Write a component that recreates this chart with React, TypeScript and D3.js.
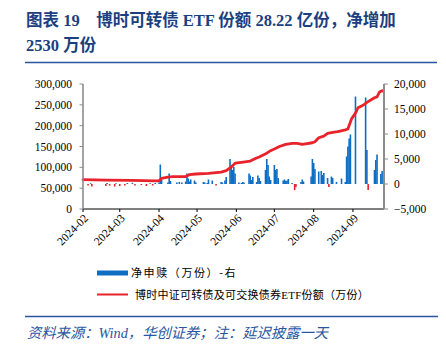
import React from "react";
import * as d3 from "d3";

const titleLine1 = "图表 19\u3000博时可转债 ETF 份额 28.22 亿份，净增加";
const titleLine2 = "2530 万份";
const legendBar = "净申赎（万份）-右";
const legendLine = "博时中证可转债及可交换债券ETF份额（万份）";
const sourceText = "资料来源：Wind，华创证券；注：延迟披露一天";

const monthTicks = ["2024-02", "2024-03", "2024-04", "2024-05", "2024-06", "2024-07", "2024-08", "2024-09"];
const leftTicks = [0, 50000, 100000, 150000, 200000, 250000, 300000];
const rightTicks = [-5000, 0, 5000, 10000, 15000, 20000];

// ETF shares (万份), left axis
const lineDates = [
  "2024-02-01", "2024-02-20", "2024-03-10", "2024-03-29", "2024-04-01", "2024-04-03", "2024-04-08",
  "2024-04-12", "2024-04-22", "2024-04-25", "2024-04-30", "2024-05-10", "2024-05-20", "2024-05-24",
  "2024-05-28", "2024-05-31", "2024-06-05", "2024-06-12", "2024-06-16", "2024-06-19", "2024-06-21",
  "2024-06-25", "2024-06-28", "2024-07-01", "2024-07-05", "2024-07-10", "2024-07-15", "2024-07-19",
  "2024-07-23", "2024-07-31", "2024-08-02", "2024-08-05", "2024-08-09", "2024-08-12", "2024-08-16",
  "2024-08-20", "2024-08-26", "2024-08-28", "2024-08-31", "2024-09-03", "2024-09-05", "2024-09-09",
  "2024-09-12", "2024-09-18", "2024-09-20", "2024-09-22", "2024-09-24", "2024-09-25",
];
const lineValues = [
  70500, 69500, 68500, 67500, 67800, 73500, 76500,
  77500, 78000, 82500, 84000, 85500, 88500, 92000,
  101000, 110000, 112000, 115000, 121000, 125000, 128000,
  134000, 140000, 144000, 150000, 155000, 157500, 157600,
  155000, 159000, 161500, 171000, 175000, 181600, 184000,
  185600, 190000, 192000, 217000, 230000, 243000, 249000,
  256000, 267000, 269000, 281000, 284000, 282200,
];

// Net subscription (万份), right axis
const barDates = [
  "2024-02-05", "2024-02-07", "2024-02-08", "2024-02-19", "2024-02-20", "2024-02-22", "2024-02-26",
  "2024-02-27", "2024-03-01", "2024-03-05", "2024-03-07", "2024-03-11", "2024-03-13", "2024-03-18",
  "2024-03-22", "2024-03-25", "2024-03-27", "2024-03-29",
  "2024-04-01", "2024-04-02", "2024-04-03", "2024-04-08", "2024-04-09", "2024-04-10", "2024-04-15",
  "2024-04-17", "2024-04-19", "2024-04-22", "2024-04-23", "2024-04-24", "2024-04-25", "2024-04-26",
  "2024-04-29", "2024-04-30",
  "2024-05-06", "2024-05-07", "2024-05-09", "2024-05-10", "2024-05-13", "2024-05-16", "2024-05-20",
  "2024-05-21", "2024-05-23", "2024-05-24", "2024-05-27", "2024-05-28", "2024-05-29", "2024-05-30",
  "2024-05-31",
  "2024-06-03", "2024-06-05", "2024-06-06", "2024-06-07", "2024-06-11", "2024-06-12", "2024-06-13",
  "2024-06-14", "2024-06-17", "2024-06-18", "2024-06-19", "2024-06-20", "2024-06-24", "2024-06-25",
  "2024-06-26", "2024-06-27", "2024-06-28",
  "2024-07-01", "2024-07-02", "2024-07-03", "2024-07-04", "2024-07-08", "2024-07-09", "2024-07-10",
  "2024-07-11", "2024-07-12", "2024-07-15", "2024-07-17", "2024-07-18", "2024-07-22", "2024-07-23",
  "2024-07-24", "2024-07-30", "2024-07-31",
  "2024-08-01", "2024-08-02", "2024-08-05", "2024-08-07", "2024-08-08", "2024-08-09", "2024-08-12",
  "2024-08-13", "2024-08-15", "2024-08-16", "2024-08-19", "2024-08-23", "2024-08-26", "2024-08-27",
  "2024-08-28", "2024-08-29", "2024-08-30",
  "2024-09-03", "2024-09-11", "2024-09-12", "2024-09-13", "2024-09-18", "2024-09-19", "2024-09-20",
  "2024-09-23", "2024-09-24",
];
const barValues = [
  -300, 150, -500, -400, 200, -300, -500,
  150, -400, -300, 200, 250, -300, -200,
  -400, 150, -300, 200,
  300, 3900, 800, 300, 2100, 600, 300,
  400, 300, 500, 2100, 1100, 500, 900,
  700, 300,
  400, 300, 200, 900, 700, -300, 400,
  300, 700, 1400, 5000, 3800, 2800, 3400,
  2100,
  300, 200, 400, 300, 2100, 1700, 800,
  1400, 400, 1700, 1200, 600, 2800, 5000,
  3800, 1500, 800,
  3800, 2800, 3000, 1200, 700, 900, 600,
  700, 1000, 200, -1200, -600, 400, 900,
  500, 1500, 5000,
  4200, 3000, 2500, 2600, 1800, 2200, 1200,
  -600, 1500, 1200, 400, 1100, 400, 5500,
  7500, 9100, 9900,
  17500, 17300, 6800, -1200, 2800, 4800, 5900,
  2000, 2600,
];

const W = 446;
const H = 356;
const plotLeft = 83;
const plotRight = 384;
const plotTop = 84;
const plotBottom = 209;

const serif = "'Liberation Serif', 'Times New Roman', 'Noto Sans CJK SC', serif";
const cjk = "'Liberation Serif', 'Noto Sans CJK SC', sans-serif";
const titleColor = "#1c3f7f";
const ruleColor = "#2a55a0";

export default function App() {
  const parse = d3.timeParse("%Y-%m-%d");
  const x = d3
    .scaleTime()
    .domain([parse("2024-02-01")!, new Date(2024, 8, 25, 12)])
    .range([plotLeft, plotRight]);
  const yL = d3.scaleLinear().domain([0, 300000]).range([plotBottom, plotTop]);
  const yR = d3.scaleLinear().domain([-5000, 20000]).range([plotBottom, plotTop]);

  const lineData = lineDates.map((d, i) => ({ date: parse(d)!, value: lineValues[i] }));
  const barData = barDates.map((d, i) => ({ date: parse(d)!, value: barValues[i] }));
  const linePath = d3
    .line<{ date: Date; value: number }>()
    .x((d) => x(d.date))
    .y((d) => yL(d.value))(lineData);

  const fmt = d3.format(",");
  const bw = 1.6;

  return (
    <svg
      width={W}
      height={H}
      viewBox={`0 0 ${W} ${H}`}
      style={{ position: "absolute", left: 0, top: 0, background: "#fff" }}
    >
      {/* Title */}
      <text x={26} y={26} fontFamily={cjk} fontWeight="bold" fontSize={16.5} fill={titleColor}>
        {titleLine1}
      </text>
      <text x={26} y={51} fontFamily={cjk} fontWeight="bold" fontSize={16.5} fill={titleColor}>
        {titleLine2}
      </text>
      <line x1={25} x2={437} y1={62.5} y2={62.5} stroke={ruleColor} strokeWidth={1.5} />

      {/* Bars */}
      {barData.map((d, i) => {
        const y0 = yR(0);
        const y1 = yR(d.value);
        return (
          <rect
            key={i}
            x={x(d.date) - bw / 2}
            y={Math.min(y0, y1)}
            width={bw}
            height={Math.abs(y1 - y0)}
            fill={d.value >= 0 ? "#0f6ec4" : "#e0262c"}
          />
        );
      })}

      {/* Line */}
      <path d={linePath || ""} fill="none" stroke="#e8232b" strokeWidth={2.8} strokeLinejoin="round" strokeLinecap="round" />

      {/* X axis */}
      <line x1={plotLeft} x2={plotRight} y1={plotBottom} y2={plotBottom} stroke="#000" strokeWidth={1} />
      {monthTicks.map((m) => {
        const px = x(parse(m + "-01")!);
        return (
          <g key={m}>
            <line x1={px} x2={px} y1={plotBottom} y2={plotBottom + 3} stroke="#000" strokeWidth={1} />
            <text
              transform={`translate(${px + 3},${plotBottom + 7}) rotate(-45)`}
              textAnchor="end"
              fontFamily={serif}
              fontSize={11.5}
              fill="#000"
              dy="0.35em"
            >
              {m}
            </text>
          </g>
        );
      })}

      {/* Left axis */}
      <line x1={plotLeft} x2={plotLeft} y1={plotTop} y2={plotBottom} stroke="#8c8c8c" strokeWidth={1.6} />
      {leftTicks.map((t) => (
        <g key={t}>
          <line x1={plotLeft - 3.5} x2={plotLeft} y1={yL(t)} y2={yL(t)} stroke="#8c8c8c" strokeWidth={1} />
          <text x={72} y={yL(t)} dy="0.35em" textAnchor="end" fontFamily={serif} fontSize={11.5} fill="#000">
            {fmt(t)}
          </text>
        </g>
      ))}

      {/* Right axis */}
      <line x1={plotRight} x2={plotRight} y1={plotTop} y2={plotBottom} stroke="#8c8c8c" strokeWidth={2} />
      {rightTicks.map((t) => (
        <g key={t}>
          <line x1={plotRight} x2={plotRight + 4} y1={yR(t)} y2={yR(t)} stroke="#8c8c8c" strokeWidth={1} />
          <text x={394} y={yR(t)} dy="0.35em" textAnchor="start" fontFamily={serif} fontSize={11.5} fill="#000">
            {fmt(t)}
          </text>
        </g>
      ))}

      {/* Legend */}
      <rect x={97} y={270.5} width={31} height={5} fill="#0f6ec4" />
      <text x={131} y={273} dy="0.35em" fontFamily="'Noto Sans CJK SC', sans-serif" fontSize={11} letterSpacing={1.6} fill="#000">
        {legendBar}
      </text>
      <line x1={97} x2={128} y1={294.5} y2={294.5} stroke="#e8232b" strokeWidth={2} />
      <text x={135} y={295} dy="0.35em" fontFamily={cjk} fontSize={11} letterSpacing={0.25} fill="#000">
        {legendLine}
      </text>

      {/* Source */}
      <line x1={25} x2={438} y1={316.5} y2={316.5} stroke={ruleColor} strokeWidth={1.5} />
      <text x={27} y={333} dy="0.35em" fontFamily={cjk} fontStyle="italic" fontSize={14.3} fill={ruleColor}>
        {sourceText}
      </text>
    </svg>
  );
}
